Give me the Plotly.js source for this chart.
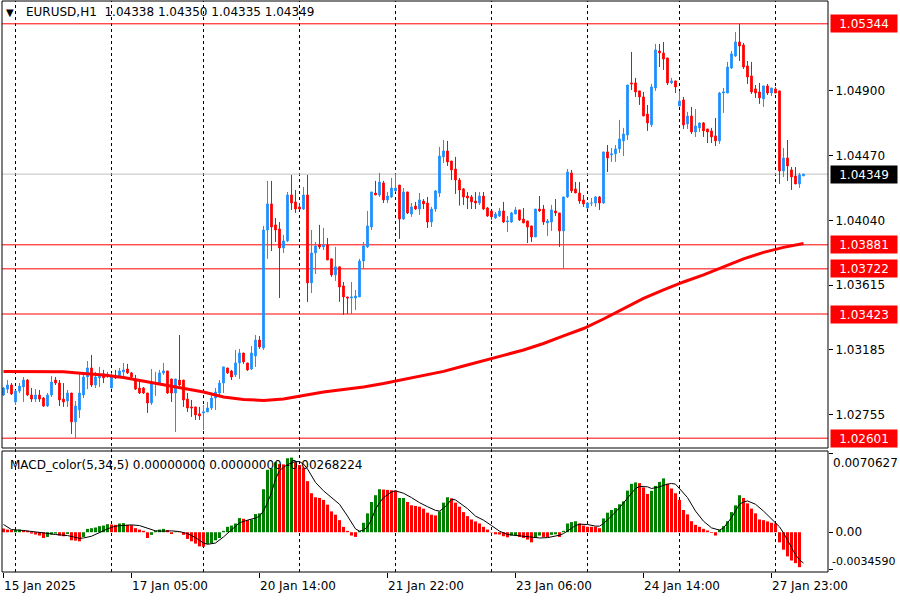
<!DOCTYPE html>
<html><head><meta charset="utf-8">
<script src="https://cdn.plot.ly/plotly-3.0.1.min.js"></script>
<style>html,body{margin:0;padding:0;background:#fff}#chart{width:900px;height:600px}</style>
</head><body><div id="chart"></div>
<script>
// ---- EURUSD H1 candles (bar index 0..200) ----
const openP = [1.02887,1.02926,1.02953,1.02841,1.02913,1.02940,1.02986,1.02887,1.02860,1.02887,
1.02867,1.02814,1.02887,1.02986,1.02966,1.02860,1.02847,1.02900,1.02709,1.02788,
1.02887,1.03006,1.03066,1.02953,1.03000,1.03026,1.03013,1.02933,1.03006,1.03006,
1.03040,1.03059,1.03033,1.02979,1.02933,1.02933,1.02900,1.02834,1.02966,1.02966,
1.03033,1.03046,1.02993,1.02900,1.02986,1.02986,1.02860,1.02808,1.02808,1.02762,
1.02768,1.02775,1.02801,1.02867,1.02900,1.02966,1.03066,1.03046,1.03020,1.03099,
1.03165,1.03099,1.03059,1.03145,1.03251,1.03198,1.03979,1.04152,1.04013,1.03986,
1.03860,1.03907,1.04211,1.04165,1.04132,1.04118,1.04211,1.03629,1.03827,1.03880,
1.03867,1.03880,1.03788,1.03682,1.03735,1.03609,1.03536,1.03529,1.03529,1.03536,
1.03774,1.03867,1.03999,1.04224,1.04211,1.04291,1.04178,1.04198,1.04238,1.04277,
1.04052,1.04231,1.04085,1.04138,1.04118,1.04171,1.04158,1.04032,1.04118,1.04224,
1.04463,1.04502,1.04436,1.04383,1.04310,1.04251,1.04204,1.04198,1.04171,1.04158,
1.04204,1.04125,1.04105,1.04059,1.04072,1.04105,1.04032,1.04032,1.04085,1.04112,
1.04052,1.04039,1.04006,1.03933,1.04118,1.04118,1.04026,1.04032,1.04105,1.04092,
1.03973,1.04198,1.04357,1.04251,1.04224,1.04178,1.04125,1.04158,1.04158,1.04198,
1.04158,1.04496,1.04476,1.04483,1.04516,1.04569,1.04608,1.04953,1.04953,1.04900,
1.04860,1.04747,1.04675,1.04919,1.05164,1.05151,1.05118,1.04953,1.04966,1.04800,
1.04840,1.04681,1.04734,1.04628,1.04655,1.04688,1.04648,1.04635,1.04602,1.04569,
1.04886,1.04886,1.05052,1.05131,1.05224,1.05204,1.05065,1.04999,1.04913,1.04893,
1.04847,1.04933,1.04886,1.04913,1.04900,1.04370,1.04456,1.04377,1.04337,1.04284,
1.04338];
const highP = [1.02940,1.02986,1.02966,1.02920,1.02966,1.03006,1.02993,1.02933,1.02926,1.02920,
1.02874,1.02900,1.03013,1.03006,1.02986,1.02966,1.02920,1.02900,1.02847,1.03033,
1.03033,1.03112,1.03152,1.03040,1.03073,1.03053,1.03040,1.03033,1.03053,1.03066,
1.03099,1.03093,1.03040,1.03020,1.02973,1.02940,1.02900,1.03059,1.03040,1.03053,
1.03099,1.03046,1.02993,1.02993,1.03284,1.02986,1.02900,1.02854,1.02808,1.02808,
1.02821,1.02841,1.02900,1.02933,1.02986,1.03073,1.03066,1.03053,1.03185,1.03192,
1.03165,1.03099,1.03211,1.03284,1.03277,1.04006,1.04304,1.04304,1.04059,1.04032,
1.03946,1.04231,1.04344,1.04244,1.04158,1.04264,1.04344,1.03979,1.03900,1.04013,
1.03993,1.03926,1.03788,1.03867,1.03735,1.03635,1.03536,1.03635,1.03582,1.03788,
1.03900,1.04105,1.04231,1.04304,1.04357,1.04304,1.04231,1.04324,1.04344,1.04277,
1.04257,1.04231,1.04158,1.04165,1.04224,1.04184,1.04198,1.04132,1.04244,1.04529,
1.04575,1.04569,1.04436,1.04463,1.04324,1.04257,1.04231,1.04211,1.04231,1.04231,
1.04231,1.04132,1.04105,1.04099,1.04125,1.04165,1.04072,1.04099,1.04132,1.04112,
1.04125,1.04039,1.04006,1.04118,1.04204,1.04145,1.04052,1.04145,1.04184,1.04092,
1.04198,1.04383,1.04377,1.04297,1.04297,1.04211,1.04165,1.04191,1.04204,1.04204,
1.04496,1.04542,1.04522,1.04542,1.04708,1.04655,1.04939,1.05158,1.04986,1.04900,
1.04893,1.04807,1.04946,1.05211,1.05211,1.05224,1.05118,1.04986,1.04966,1.04900,
1.04860,1.04761,1.04794,1.04780,1.04688,1.04694,1.04648,1.04655,1.04721,1.04893,
1.04919,1.05092,1.05164,1.05290,1.05344,1.05217,1.05098,1.05092,1.04939,1.04953,
1.04933,1.04946,1.04919,1.04926,1.04900,1.04522,1.04575,1.04396,1.04396,1.04357,
1.04350];
const lowP = [1.02880,1.02900,1.02887,1.02821,1.02900,1.02841,1.02880,1.02841,1.02841,1.02841,
1.02808,1.02808,1.02874,1.02953,1.02814,1.02808,1.02808,1.02629,1.02601,1.02735,
1.02867,1.02926,1.02940,1.02933,1.02940,1.02966,1.03000,1.02933,1.02993,1.03006,
1.03006,1.03026,1.02993,1.02920,1.02894,1.02894,1.02768,1.02821,1.02880,1.02953,
1.03020,1.02894,1.02841,1.02642,1.02946,1.02808,1.02775,1.02742,1.02722,1.02722,
1.02655,1.02775,1.02788,1.02788,1.02887,1.02900,1.03026,1.02986,1.03006,1.02993,
1.03093,1.03046,1.03053,1.03073,1.03192,1.03185,1.03788,1.03840,1.03900,1.03529,
1.03827,1.03900,1.04112,1.04092,1.04112,1.04112,1.03503,1.03562,1.03688,1.03854,
1.03847,1.03781,1.03669,1.03642,1.03503,1.03417,1.03423,1.03423,1.03450,1.03536,
1.03721,1.03860,1.03979,1.04211,1.04198,1.04158,1.04158,1.04191,1.04231,1.03920,
1.04046,1.04085,1.04066,1.04112,1.04079,1.04118,1.03993,1.03999,1.04099,1.04198,
1.04423,1.04403,1.04310,1.04218,1.04141,1.04145,1.04118,1.04118,1.04118,1.04145,
1.04112,1.04066,1.04046,1.04052,1.04066,1.04026,1.03966,1.04026,1.04085,1.04039,
1.04026,1.03893,1.03900,1.03933,1.04099,1.04013,1.03940,1.03973,1.04072,1.03867,
1.03721,1.04191,1.04224,1.04224,1.04152,1.04132,1.04118,1.04138,1.04132,1.04112,
1.04152,1.04363,1.04430,1.04430,1.04489,1.04469,1.04575,1.04906,1.04860,1.04807,
1.04734,1.04635,1.04661,1.04900,1.05058,1.05039,1.04939,1.04946,1.04886,1.04800,
1.04648,1.04648,1.04615,1.04595,1.04628,1.04595,1.04555,1.04555,1.04535,1.04549,
1.04754,1.04886,1.05045,1.05125,1.05098,1.05045,1.04946,1.04880,1.04853,1.04814,
1.04794,1.04873,1.04866,1.04886,1.04284,1.04330,1.04304,1.04244,1.04284,1.04257,
1.04335];
const closeP = [1.02933,1.02953,1.02894,1.02913,1.02946,1.02986,1.02887,1.02860,1.02887,1.02860,
1.02814,1.02887,1.02973,1.02966,1.02854,1.02841,1.02900,1.02709,1.02814,1.02900,
1.03006,1.03066,1.02953,1.03006,1.03026,1.03000,1.03026,1.03006,1.03000,1.03046,
1.03053,1.03033,1.03006,1.02926,1.02900,1.02900,1.02834,1.02966,1.02966,1.03033,
1.03046,1.02900,1.02900,1.02993,1.02953,1.02854,1.02801,1.02801,1.02755,1.02748,
1.02775,1.02801,1.02867,1.02907,1.02966,1.03073,1.03033,1.03006,1.03099,1.03165,
1.03106,1.03053,1.03165,1.03251,1.03205,1.03979,1.04152,1.03999,1.03979,1.03860,
1.03907,1.04211,1.04158,1.04118,1.04118,1.04211,1.03629,1.03827,1.03874,1.03867,
1.03880,1.03781,1.03682,1.03735,1.03602,1.03536,1.03529,1.03536,1.03542,1.03774,
1.03874,1.04006,1.04231,1.04211,1.04297,1.04178,1.04204,1.04257,1.04257,1.04052,
1.04231,1.04092,1.04132,1.04118,1.04178,1.04152,1.04032,1.04118,1.04238,1.04469,
1.04502,1.04430,1.04377,1.04310,1.04244,1.04198,1.04191,1.04165,1.04158,1.04204,
1.04118,1.04072,1.04066,1.04085,1.04105,1.04032,1.04039,1.04092,1.04112,1.04046,
1.04026,1.03999,1.03933,1.04118,1.04105,1.04032,1.04039,1.04112,1.04092,1.03973,
1.04198,1.04363,1.04238,1.04224,1.04171,1.04152,1.04158,1.04158,1.04198,1.04158,
1.04496,1.04456,1.04483,1.04516,1.04582,1.04615,1.04939,1.04946,1.04893,1.04860,
1.04734,1.04688,1.04926,1.05171,1.05151,1.05111,1.04953,1.04966,1.04926,1.04833,
1.04675,1.04734,1.04628,1.04668,1.04688,1.04635,1.04628,1.04595,1.04569,1.04886,
1.04893,1.05058,1.05145,1.05224,1.05197,1.05058,1.04992,1.04893,1.04886,1.04853,
1.04933,1.04886,1.04919,1.04886,1.04370,1.04456,1.04403,1.04330,1.04284,1.04344,
1.04349];

// ---- moving average (red), read at sample bars ----
const maIdx = [0,15,20,25,30,35,40,45,50,55,60,65,70,75,80,85,90,95,100,105,110,115,120,125,130,135,140,145,150,155,160,165,170,175,180,185,190,195,200];
const maVal = [1.03042,1.03040,1.03030,1.03020,1.03003,1.02979,1.02953,1.02933,1.02907,1.02874,1.02857,1.02851,1.02860,1.02884,1.02907,1.02923,1.02940,1.02963,1.02990,1.03016,1.03043,1.03079,1.03112,1.03149,1.03185,1.03228,1.03278,1.03327,1.03390,1.03460,1.03526,1.03582,1.03635,1.03682,1.03734,1.03788,1.03831,1.03864,1.03890];

// ---- MACD_color histogram ----
const macdHist = [0.00032,0.00023,0.00020,0.00020,0.00023,0.00018,0.00012,-0.00012,-0.00020,-0.00029,
-0.00050,-0.00041,-0.00020,-0.00012,-0.00029,-0.00035,-0.00015,-0.00070,-0.00073,-0.00079,
-0.00041,0.00029,0.00035,0.00041,0.00053,0.00058,0.00070,0.00067,0.00064,0.00076,
0.00079,0.00064,0.00061,0.00035,0.00023,0.00012,-0.00050,-0.00023,0.00012,0.00023,
0.00029,0.00018,-0.00015,0.00006,-0.00003,-0.00023,-0.00058,-0.00079,-0.00099,-0.00123,
-0.00126,-0.00102,-0.00094,-0.00070,-0.00050,0.00012,0.00047,0.00058,0.00076,0.00123,
0.00117,0.00105,0.00111,0.00158,0.00164,0.00374,0.00543,0.00555,0.00608,0.00593,
0.00590,0.00643,0.00649,0.00608,0.00585,0.00561,0.00444,0.00339,0.00304,0.00298,
0.00281,0.00240,0.00181,0.00152,0.00105,0.00047,0.00012,-0.00029,-0.00041,0.00012,
0.00082,0.00164,0.00263,0.00322,0.00374,0.00371,0.00368,0.00365,0.00362,0.00298,
0.00298,0.00263,0.00234,0.00228,0.00222,0.00205,0.00170,0.00152,0.00146,0.00181,
0.00257,0.00304,0.00295,0.00257,0.00222,0.00175,0.00140,0.00111,0.00094,0.00076,
0.00047,0.00023,-0.00003,-0.00018,-0.00020,-0.00035,-0.00044,-0.00029,-0.00029,-0.00041,
-0.00050,-0.00064,-0.00088,-0.00050,-0.00029,-0.00041,-0.00044,-0.00023,-0.00018,-0.00041,
0.00012,0.00076,0.00088,0.00096,0.00076,0.00058,0.00047,0.00047,0.00047,0.00035,
0.00120,0.00170,0.00193,0.00210,0.00243,0.00269,0.00362,0.00421,0.00433,0.00427,
0.00389,0.00333,0.00360,0.00403,0.00438,0.00468,0.00421,0.00380,0.00339,0.00281,
0.00193,0.00155,0.00096,0.00064,0.00047,0.00029,0.00015,-0.00006,-0.00029,0.00023,
0.00053,0.00096,0.00175,0.00234,0.00322,0.00298,0.00251,0.00205,0.00164,0.00111,
0.00105,0.00094,0.00082,0.00076,-0.00088,-0.00152,-0.00210,-0.00246,-0.00269,-0.00304,
0];
// g = rising (green buffer), r = falling (red buffer)
const macdDir = ("rrrggrr"+"rrrr"+"ggg"+"rr"+"g"+"rrr"+"ggggggg"+"rr"+"gg"+"rrrrrr"+"gggg"+"rr"+"g"+"rrrrrrr"+
  "ggggggggg"+"rr"+"ggggggg"+"rr"+"gg"+"rrrrrrrrrrrrrrrr"+"gggggg"+"rrrr"+"gg"+"rrrrrrrr"+"ggg"+
  "rrrrrrrrrrrrrrr"+"gg"+"rrrr"+"gg"+"rr"+"gg"+"r"+"gggg"+"rrrrrr"+"ggggggggg"+"rrr"+"gggg"+
  "rrrrrrrrrrrrr"+"gggggg"+"rrrrrrrrrrrrrrrr").split('');
// ---- MACD signal line, read at sample bars ----
const sigIdx = [0,2,5,8,10,13,16,19,20,22,24,26,28,30,32,34,36,38,40,42,44,46,48,50,51,53,55,57,59,61,63,64,65,66,67,68,69,70,71,72,73,74,75,76,77,78,80,82,84,86,88,89,90,91,92,93,94,95,96,97,98,100,102,104,106,108,109,110,111,112,113,114,116,118,120,122,124,126,128,130,132,134,136,138,139,140,142,143,144,146,148,149,150,152,154,156,158,159,161,162,164,166,167,168,169,171,173,175,177,179,180,182,184,185,186,188,190,192,193,194,195,196,197,198,199,200];
const sigVal = [0.00067,0.00023,0.00015,0.00006,-0.00006,-0.00020,-0.00029,-0.00053,-0.00050,-0.00035,-0.00003,0.00029,0.00053,0.00061,0.00064,0.00058,0.00035,0.00012,0.00009,0.00012,0.00006,-0.00012,-0.00047,-0.00094,-0.00105,-0.00094,-0.00041,0.00023,0.00082,0.00105,0.00123,0.00140,0.00184,0.00257,0.00345,0.00462,0.00535,0.00564,0.00588,0.00602,0.00614,0.00614,0.00593,0.00550,0.00491,0.00433,0.00360,0.00301,0.00243,0.00140,0.00029,0.00009,0.00018,0.00047,0.00111,0.00199,0.00257,0.00301,0.00330,0.00351,0.00360,0.00339,0.00301,0.00257,0.00222,0.00190,0.00184,0.00208,0.00243,0.00286,0.00281,0.00257,0.00205,0.00140,0.00105,0.00058,0.00009,-0.00020,-0.00029,-0.00035,-0.00041,-0.00050,-0.00047,-0.00035,-0.00026,-0.00012,0.00032,0.00058,0.00070,0.00067,0.00053,0.00053,0.00076,0.00140,0.00213,0.00292,0.00380,0.00398,0.00395,0.00380,0.00395,0.00418,0.00424,0.00418,0.00380,0.00301,0.00184,0.00096,0.00038,0.00018,0.00038,0.00126,0.00243,0.00263,0.00272,0.00243,0.00184,0.00117,0.00088,0.00047,-0.00006,-0.00070,-0.00137,-0.00196,-0.00240,-0.00268];

// ---- levels and labels ----
const redLevels = [1.05344, 1.03881, 1.03722, 1.03423, 1.02601];
const bidPrice = 1.04349;
const priceTicks = [1.04900, 1.04470, 1.04040, 1.03615, 1.03185, 1.02755];
const dayLines = [3, 27, 50, 74, 98, 122, 146, 169, 193];
const timeTickIdx = [0, 32, 64, 96, 128, 160, 192];
const timeTickText = ['15 Jan 2025','17 Jan 05:00','20 Jan 14:00','21 Jan 22:00','23 Jan 06:00','24 Jan 14:00','27 Jan 23:00'];
const macdMax = 0.0070627, macdMin = -0.0034590;
const headerText = 'EURUSD,H1  1.04338 1.04350 1.04335 1.04349';
const macdText = 'MACD_color(5,34,5) 0.00000000 0.00000000 -0.00268224';

// ---- build ----
const FONT = 'DejaVu Sans';
const idx = openP.map((_, i) => i);
const mainDom = [0.21716, 1];
const macdDom = [0, 0.2119];

const traces = [
  {type:'candlestick', x: idx, open: openP, high: highP, low: lowP, close: closeP,
   xaxis:'x', yaxis:'y', whiskerwidth: 0, hoverinfo:'skip',
   increasing:{line:{color:'#1E90FF', width:1}, fillcolor:'#1E90FF'},
   decreasing:{line:{color:'#FF0000', width:1}, fillcolor:'#FF0000'}},
  {type:'scatter', mode:'lines', x: maIdx, y: maVal, xaxis:'x', yaxis:'y',
   line:{color:'#FF0000', width:3}, hoverinfo:'skip'},
  {type:'bar', x: idx, y: macdHist, xaxis:'x', yaxis:'y2', width: 0.75,
   marker:{color: macdDir.map(d => d === 'g' ? '#008000' : '#FF0000'), line:{width:0}}, hoverinfo:'skip'},
  {type:'scatter', mode:'lines', x: sigIdx, y: sigVal, xaxis:'x', yaxis:'y2',
   line:{color:'#000000', width:1}, hoverinfo:'skip'}
];

const shapes = [];
dayLines.forEach(d => shapes.push({type:'line', xref:'x', yref:'paper', x0:d, x1:d, y0:0, y1:1,
  line:{color:'#000', width:1, dash:'3px,3px'}, layer:'below'}));
redLevels.forEach(v => shapes.push({type:'line', xref:'paper', yref:'y', x0:0, x1:1, y0:v, y1:v,
  line:{color:'#FF0000', width:1}, layer:'below'}));
shapes.push({type:'line', xref:'paper', yref:'y', x0:0, x1:1, y0:bidPrice, y1:bidPrice,
  line:{color:'#C0C0C0', width:1}, layer:'below'});
// panel frames
shapes.push({type:'rect', xref:'paper', yref:'paper', x0:0, x1:1, y0:mainDom[0], y1:mainDom[1],
  line:{color:'#000', width:1}, fillcolor:'rgba(0,0,0,0)', layer:'above'});
shapes.push({type:'rect', xref:'paper', yref:'paper', x0:0, x1:1, y0:macdDom[0], y1:macdDom[1],
  line:{color:'#000', width:1}, fillcolor:'rgba(0,0,0,0)', layer:'above'});

const annotations = [];
redLevels.forEach(v => annotations.push({xref:'paper', yref:'y', x:1, y:v, xanchor:'left', yanchor:'middle',
  xshift:2, text: v.toFixed(5), showarrow:false, bgcolor:'#FF0000', borderpad:2, width:62, height:13, align:'center',
  font:{family:FONT, size:12, color:'#FFFFFF'}}));
annotations.push({xref:'paper', yref:'y', x:1, y:bidPrice, xanchor:'left', yanchor:'middle',
  xshift:2, text: bidPrice.toFixed(5), showarrow:false, bgcolor:'#000000', borderpad:2, width:62, height:13, align:'center',
  font:{family:FONT, size:12, color:'#FFFFFF'}});
annotations.push({xref:'paper', yref:'y2', x:1, y:macdMax, xanchor:'left', yanchor:'top', xshift:3, yshift:-3,
  text: macdMax.toFixed(7), showarrow:false, font:{family:FONT, size:12, color:'#000'}});
annotations.push({xref:'paper', yref:'y2', x:1, y:macdMin, xanchor:'left', yanchor:'bottom', xshift:2, yshift:2,
  text: macdMin.toFixed(7), showarrow:false, font:{family:FONT, size:11, color:'#000'}});
annotations.push({xref:'paper', yref:'paper', x:0.0024, y:0.9807, xanchor:'left', yanchor:'middle',
  text:'▼', showarrow:false, font:{family:FONT, size:10, color:'#000'}});
annotations.push({xref:'paper', yref:'paper', x:0.0266, y:0.9807, xanchor:'left', yanchor:'middle',
  text: headerText.replace(/ /g,'&nbsp;'), showarrow:false, font:{family:FONT, size:12, color:'#000'}});
annotations.push({xref:'paper', yref:'paper', x:0.0073, y:0.1874, xanchor:'left', yanchor:'middle',
  text: macdText, showarrow:false, font:{family:FONT, size:12, color:'#000'}});

const layout = {
  width:900, height:600,
  margin:{l:2, r:72, t:1, b:28},
  paper_bgcolor:'#FFFFFF', plot_bgcolor:'#FFFFFF',
  showlegend:false, boxgap:0.4, hovermode:false,
  font:{family:FONT, size:12, color:'#000'},
  // bar centres fall on pixel centres (3.5 + 4*i)
  xaxis:{range:[-0.375, 206.125], anchor:'y2', showgrid:false, zeroline:false,
    rangeslider:{visible:false}, tickmode:'array', tickvals: timeTickIdx, ticktext: timeTickText,
    ticks:'outside', ticklen:5, tickcolor:'#000', ticklabelposition:'outside right',
    ticklabelstandoff:3,
    tickfont:{family:FONT, size:12, color:'#000'}, showline:false, fixedrange:true},
  yaxis:{domain: mainDom, range:[1.02536, 1.05495], side:'right', tickmode:'array',
    tickvals: priceTicks, ticktext: priceTicks.map(v => v.toFixed(5)),
    ticks:'outside', ticklen:4, tickcolor:'#000', showgrid:false, zeroline:false,
    showline:false, tickfont:{family:FONT, size:12, color:'#000'}, fixedrange:true},
  yaxis2:{domain: macdDom, range:[macdMin, macdMax], side:'right', tickmode:'array',
    tickvals:[macdMax - 0.00025, 0, macdMin + 0.00025], ticktext:['', '0.00', ''],
    ticks:'outside', ticklen:4, tickcolor:'#000', showgrid:false, zeroline:false,
    showline:false, tickfont:{family:FONT, size:12, color:'#000'}, fixedrange:true},
  shapes, annotations
};

Plotly.newPlot('chart', traces, layout, {staticPlot:true, displayModeBar:false});
</script>
</body></html>
